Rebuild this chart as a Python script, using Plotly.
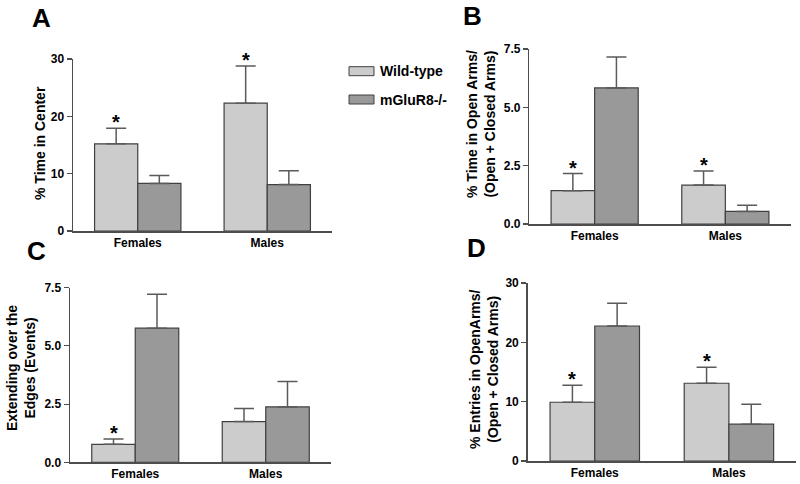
import plotly.graph_objects as go

W, H = 800, 484

categories = ["Females", "Males"]
series_names = ["Wild-type", "mGluR8-/-"]

# Panel A: % Time in Center
A_wt = [15.2, 22.3]
A_wt_err = [2.7, 6.5]
A_ko = [8.3, 8.1]
A_ko_err = [1.4, 2.4]
A_star = [True, True]

# Panel B: % Time in Open Arms / (Open + Closed Arms)
B_wt = [1.43, 1.67]
B_wt_err = [0.73, 0.60]
B_ko = [5.83, 0.54]
B_ko_err = [1.33, 0.26]
B_star = [True, True]

# Panel C: Extending over the Edges (Events)
C_wt = [0.77, 1.75]
C_wt_err = [0.23, 0.56]
C_ko = [5.76, 2.38]
C_ko_err = [1.46, 1.09]
C_star = [True, False]

# Panel D: % Entries in Open Arms / (Open + Closed Arms)
D_wt = [9.9, 13.1]
D_wt_err = [2.85, 2.7]
D_ko = [22.75, 6.2]
D_ko_err = [3.85, 3.35]
D_star = [True, True]

ticks_AD = [0, 10, 20, 30]
ticks_BC = [0.0, 2.5, 5.0, 7.5]

FONT = "Arial, Liberation Sans, sans-serif"
LIGHT = "#cccccc"
DARK = "#999999"
OUTLINE = "#404040"
ERRC = "#5a5a5a"
AXC = "#4d4d4d"

def px_x(p):
    return p / W

def px_y(p):
    return 1 - p / H

panels = [
    dict(key="A", wt=A_wt, wte=A_wt_err, ko=A_ko, koe=A_ko_err, star=A_star,
         dom_x=(73, 332), dom_y=(231, 59), yr=(0, 30), ticks=ticks_AD, fmt="d",
         title="% Time in Center", tx=40, ty=143,
         letter="A", lx=41, ly=17.5),
    dict(key="B", wt=B_wt, wte=B_wt_err, ko=B_ko, koe=B_ko_err, star=B_star,
         dom_x=(529.3, 790.7), dom_y=(224, 49), yr=(0, 7.5), ticks=ticks_BC, fmt=".1f",
         title="% Time in Open Arms/<br>(Open + Closed Arms)", tx=481, ty=124,
         letter="B", lx=472.5, ly=16),
    dict(key="C", wt=C_wt, wte=C_wt_err, ko=C_ko, koe=C_ko_err, star=C_star,
         dom_x=(70, 331), dom_y=(462.3, 287.7), yr=(0, 7.5), ticks=ticks_BC, fmt=".1f",
         title="Extending over the<br>Edges (Events)", tx=21, ty=368,
         letter="C", lx=36, ly=251),
    dict(key="D", wt=D_wt, wte=D_wt_err, ko=D_ko, koe=D_ko_err, star=D_star,
         dom_x=(527.7, 796), dom_y=(461, 283), yr=(0, 30), ticks=ticks_AD, fmt="d",
         title="% Entries in OpenArms/<br>(Open + Closed Arms)", tx=484, ty=369,
         letter="D", lx=476.7, ly=247.5),
]

fig = go.Figure()
annotations = []
shapes = []
layout_axes = {}
xpos = list(range(len(categories)))

for i, p in enumerate(panels):
    n = "" if i == 0 else str(i + 1)
    xa, ya = "x" + n, "y" + n
    for name, vals, errs, col in [(series_names[0], p["wt"], p["wte"], LIGHT),
                                  (series_names[1], p["ko"], p["koe"], DARK)]:
        fig.add_trace(go.Bar(
            x=xpos, y=vals, name=name, xaxis=xa, yaxis=ya,
            offsetgroup=name, showlegend=False,
            marker=dict(color=col, line=dict(color=OUTLINE, width=1.2)),
            error_y=dict(type="data", symmetric=False, array=errs,
                         arrayminus=[0] * len(errs), color=ERRC,
                         thickness=1.5, width=10),
        ))
    layout_axes["xaxis" + n] = dict(
        domain=[px_x(p["dom_x"][0]), px_x(p["dom_x"][1])],
        anchor=ya, range=[-0.5, len(categories) - 0.5],
        tickmode="array", tickvals=xpos, ticktext=categories,
        showline=True, linecolor=AXC, linewidth=1.5, ticks="",
        showgrid=False, zeroline=False, fixedrange=True, automargin=False,
        tickfont=dict(family=FONT, size=12, color="#000000"),
    )
    layout_axes["yaxis" + n] = dict(
        domain=[px_y(p["dom_y"][0]), px_y(p["dom_y"][1])],
        anchor=xa, range=list(p["yr"]),
        tickmode="array", tickvals=p["ticks"], tickformat=p["fmt"],
        showline=True, linecolor=AXC, linewidth=1.5,
        ticks="outside", ticklen=5, tickcolor=AXC, tickwidth=1.2,
        showgrid=False, zeroline=False, fixedrange=True, automargin=False,
        tickfont=dict(family=FONT, size=12, color="#000000"),
    )
    # significance stars above the wild-type bars
    for j, s in enumerate(p["star"]):
        if s:
            annotations.append(dict(
                x=xpos[j] - 1 / 6, y=p["wt"][j] + p["wte"][j],
                xref=xa, yref=ya, text="*", showarrow=False,
                yanchor="bottom", yshift=-7,
                font=dict(family=FONT, size=20, color="#000000"),
            ))
    # y-axis title
    annotations.append(dict(
        x=px_x(p["tx"]), y=px_y(p["ty"]), xref="paper", yref="paper",
        text=p["title"], textangle=-90, showarrow=False,
        xanchor="center", yanchor="middle",
        font=dict(family=FONT, size=14, color="#000000"),
    ))
    # panel letter
    annotations.append(dict(
        x=px_x(p["lx"]), y=px_y(p["ly"]), xref="paper", yref="paper",
        text="<b>%s</b>" % p["letter"], showarrow=False,
        xanchor="center", yanchor="middle",
        font=dict(family=FONT, size=26, color="#000000"),
    ))

# legend (drawn as swatches + labels)
legend_rows = [(series_names[0], LIGHT, 66.7, 75.7), (series_names[1], DARK, 95, 104)]
for name, col, y0, y1 in legend_rows:
    shapes.append(dict(
        type="rect", xref="paper", yref="paper",
        x0=px_x(349), x1=px_x(374), y0=px_y(y1), y1=px_y(y0),
        fillcolor=col, line=dict(color=OUTLINE, width=1),
    ))
    annotations.append(dict(
        x=px_x(378), y=px_y((y0 + y1) / 2), xref="paper", yref="paper",
        text="<b>%s</b>" % name, showarrow=False,
        xanchor="left", yanchor="middle",
        font=dict(family=FONT, size=14, color="#000000"),
    ))

fig.update_layout(
    template="none",
    width=W, height=H,
    margin=dict(l=0, r=0, t=0, b=0, autoexpand=False),
    paper_bgcolor="white", plot_bgcolor="white",
    barmode="group", bargap=1 / 3, bargroupgap=0,
    font=dict(family=FONT, size=12, color="#000000", weight="bold"),
    annotations=annotations, shapes=shapes,
    showlegend=False,
    hovermode=False,
)
fig.update_layout(**layout_axes)

fig.write_html(
    "out.html",
    config={"displayModeBar": False, "staticPlot": True},
    post_script="document.body.style.margin='0';document.body.style.overflow='hidden';",
)
